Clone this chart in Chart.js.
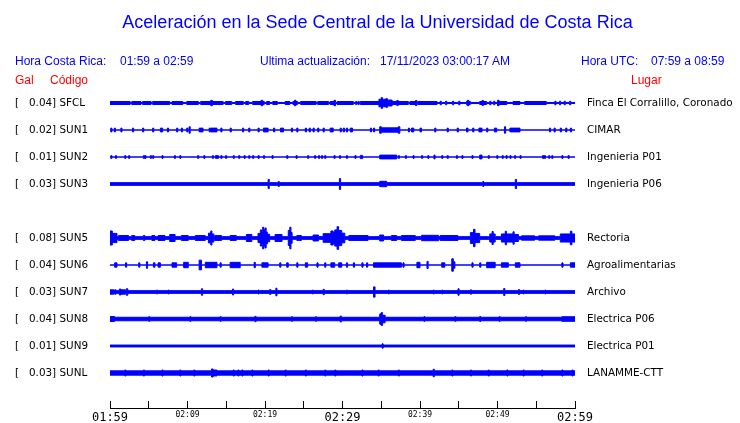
<!DOCTYPE html>
<html>
<head>
<meta charset="utf-8">
<script src="https://cdn.jsdelivr.net/npm/chart.js@4.4.1/dist/chart.umd.min.js"></script>
<style>
  body { margin: 0; background: #fff; }
  #wrap { position: relative; width: 740px; height: 423px; }
  .cab { position: absolute; font: 12px 'Liberation Sans', Arial, sans-serif; line-height: 14px; white-space: pre; color: #0000ff; }
  .rojo { color: #ff0000; }
</style>
</head>
<body>
<div id="wrap">
  <canvas id="sismo" width="740" height="423"></canvas>
  <span class="cab" style="left:15px; top:54px">Hora Costa Rica:</span>
  <span class="cab" style="left:120px; top:54px">01:59 a 02:59</span>
  <span class="cab" style="left:260px; top:54px">Ultima actualización:</span>
  <span class="cab" style="left:380px; top:54px">17/11/2023 03:00:17 AM</span>
  <span class="cab" style="left:581px; top:54px">Hora UTC:</span>
  <span class="cab" style="left:651px; top:54px">07:59 a 08:59</span>
  <span class="cab rojo" style="left:15px; top:73px">Gal</span>
  <span class="cab rojo" style="left:50px; top:73px">Código</span>
  <span class="cab rojo" style="left:631px; top:73px">Lugar</span>
</div>
<script>
const titulo = 'Aceleración en la Sede Central de la Universidad de Costa Rica';

// una fila por estacion, la fila 4 (SUN4) viene vacia
const codigos = ['SFCL', 'SUN1', 'SUN2', 'SUN3', null, 'SUN5', 'SUN6', 'SUN7', 'SUN8', 'SUN9', 'SUNL'];
const picos = ['0.04', '0.02', '0.01', '0.03', null, '0.08', '0.04', '0.03', '0.04', '0.01', '0.03'];
const lugares = ['Finca El Corralillo, Coronado', 'CIMAR', 'Ingenieria P01', 'Ingenieria P06', null,
  'Rectoria', 'Agroalimentarias', 'Archivo', 'Electrica P06', 'Electrica P01', 'LANAMME-CTT'];
const ruidos = [0.02, 0, 0, 0.05, null, 0.05, 0, 0.05, 0.065, 0.035, 0.08];

// eje de tiempo: minutos desde 01:59
const minutosEje = [0, 5, 10, 15, 20, 25, 30, 35, 40, 45, 50, 55, 60];
const etiquetasHora = ['01:59', '', '02:09', '', '02:19', '', '02:29', '', '02:39', '', '02:49', '', '02:59'];
const horasGrandes = ['01:59', '02:29', '02:59'];

const eventosSFCL = [
  [0, 2.6, 0.055], [2.8, 4.0, 0.055], [4.2, 5.3, 0.055], [5.5, 7.7, 0.055], [8.0, 9.4, 0.055],
  [9.9, 11.4, 0.055], [11.7, 13.0, 0.055], [13.0, 13.2, 0.1], [13.2, 14.6, 0.055], [14.9, 15.7, 0.055],
  [16.2, 17.2, 0.055], [17.5, 17.9, 0.055], [18.4, 19.5, 0.055], [19.5, 19.7, 0.1], [19.7, 19.9, 0.055],
  [20.2, 20.6, 0.055], [21.0, 21.6, 0.055], [22.6, 23.2, 0.055], [23.6, 23.8, 0.055], [23.8, 24.0, 0.1],
  [24.0, 24.2, 0.055], [24.6, 26.6, 0.055], [26.8, 28.2, 0.055], [28.4, 28.9, 0.055], [28.9, 29.1, 0.1],
  [29.3, 31.4, 0.055], [31.7, 31.85, 0.06], [32.0, 32.15, 0.06], [32.3, 34.7, 0.055],
  [34.7, 35.0, 0.14], [35.0, 35.15, 0.2], [35.15, 35.6, 0.14], [35.6, 35.8, 0.16], [35.8, 36.4, 0.11],
  [36.4, 37.0, 0.055], [37.0, 37.2, 0.09], [37.2, 38.5, 0.055], [38.7, 39.4, 0.055], [39.4, 39.6, 0.09],
  [39.7, 42.2, 0.055], [42.6, 42.75, 0.065], [43.3, 43.45, 0.065], [44.2, 44.35, 0.065], [45.0, 45.15, 0.065],
  [46.0, 46.1, 0.055], [46.1, 46.3, 0.1], [46.3, 46.5, 0.055], [47.7, 48.0, 0.055], [48.0, 48.2, 0.09],
  [48.2, 48.6, 0.055], [49.0, 49.15, 0.065], [49.5, 49.65, 0.065], [50.0, 50.2, 0.1], [50.2, 51.2, 0.055],
  [52.0, 52.9, 0.055], [53.5, 56.3, 0.055], [57.4, 57.55, 0.065], [58.0, 58.15, 0.065], [58.6, 58.75, 0.065],
  [59.3, 59.45, 0.065]
];
const eventosSUN1 = [
  [0.1, 0.25, 0.07], [0.56, 0.7, 0.07], [1.4, 1.55, 0.07], [2.9, 3.05, 0.07], [4.2, 4.35, 0.07],
  [5.5, 5.65, 0.07], [6.5, 6.8, 0.07], [7.4, 7.55, 0.07], [8.6, 8.75, 0.07], [9.2, 9.35, 0.07],
  [9.9, 10.05, 0.07], [10.2, 10.35, 0.12], [11.5, 12.0, 0.07], [12.8, 12.95, 0.07], [13.0, 13.8, 0.07],
  [14.3, 14.45, 0.07], [15.5, 15.65, 0.07], [17.1, 17.25, 0.07], [17.9, 18.05, 0.07], [19.1, 19.25, 0.07],
  [19.8, 20.4, 0.07], [21.1, 21.25, 0.07], [22.0, 22.4, 0.07], [23.4, 23.55, 0.07], [24.1, 24.25, 0.07],
  [25.2, 25.35, 0.07], [25.7, 25.85, 0.07], [26.2, 26.35, 0.07], [26.8, 26.95, 0.07], [27.5, 27.65, 0.07],
  [28.4, 28.8, 0.07], [29.7, 29.85, 0.07], [30.1, 30.25, 0.07], [30.5, 30.65, 0.07], [31.0, 31.3, 0.07],
  [33.6, 33.75, 0.07], [34.0, 34.15, 0.07], [34.8, 35.0, 0.12], [35.0, 37.2, 0.08], [37.2, 37.4, 0.12],
  [38.5, 38.65, 0.07], [38.9, 39.2, 0.07], [40.0, 40.2, 0.07], [41.9, 42.05, 0.07], [43.5, 43.65, 0.07],
  [44.8, 44.95, 0.07], [46.0, 46.2, 0.07], [46.8, 46.95, 0.07], [47.6, 48.0, 0.07], [48.6, 48.75, 0.07],
  [49.6, 49.9, 0.07], [50.9, 51.05, 0.12], [51.6, 52.9, 0.07], [56.7, 56.85, 0.07], [57.3, 57.45, 0.07],
  [58.1, 58.25, 0.07], [58.8, 58.95, 0.07], [59.4, 59.55, 0.07]
];
const eventosSUN2 = [
  [0.1, 0.25, 0.05], [0.7, 0.85, 0.05], [1.9, 2.05, 0.05], [2.4, 2.55, 0.05], [4.3, 4.45, 0.05],
  [4.5, 4.65, 0.05], [5.2, 5.35, 0.05], [5.5, 5.65, 0.05], [6.7, 6.85, 0.05], [8.3, 8.45, 0.05],
  [9.0, 9.15, 0.05], [11.3, 11.45, 0.05], [12.1, 12.25, 0.05], [13.2, 13.35, 0.05], [13.6, 14.0, 0.05],
  [14.3, 14.45, 0.05], [14.9, 15.05, 0.05], [15.9, 16.05, 0.05], [16.6, 16.75, 0.05], [17.3, 17.45, 0.05],
  [17.9, 18.05, 0.05], [18.4, 18.55, 0.05], [19.1, 19.25, 0.05], [19.8, 19.95, 0.05], [20.9, 21.05, 0.05],
  [22.8, 22.95, 0.05], [24.0, 24.15, 0.05], [25.5, 25.65, 0.05], [26.4, 26.55, 0.05], [26.9, 27.05, 0.05],
  [27.3, 27.45, 0.05], [27.7, 27.85, 0.05], [28.9, 29.05, 0.05], [29.6, 29.75, 0.05], [30.5, 30.65, 0.05],
  [31.6, 31.75, 0.05], [32.3, 32.6, 0.06], [34.8, 37.0, 0.07], [37.2, 37.35, 0.05], [38.1, 38.25, 0.05],
  [39.1, 39.25, 0.05], [40.2, 40.35, 0.05], [41.0, 41.15, 0.05], [41.8, 41.95, 0.07], [42.8, 42.95, 0.05],
  [43.5, 43.65, 0.05], [44.7, 44.85, 0.05], [45.4, 45.55, 0.05], [46.7, 46.85, 0.05], [47.7, 48.0, 0.07],
  [48.8, 48.95, 0.05], [49.9, 50.05, 0.05], [50.6, 50.75, 0.05], [51.1, 51.25, 0.05], [51.6, 51.75, 0.05],
  [52.2, 52.35, 0.05], [52.9, 53.05, 0.05], [55.8, 56.2, 0.05], [56.6, 56.75, 0.05], [57.0, 57.15, 0.05],
  [58.3, 58.45, 0.05], [59.1, 59.25, 0.05]
];
const eventosSUN3 = [
  [20.4, 20.55, 0.17], [21.7, 21.85, 0.09], [29.6, 29.75, 0.2], [34.8, 35.7, 0.1],
  [48.1, 48.25, 0.09], [52.3, 52.45, 0.17]
];
const eventosSUN5 = [
  [0, 0.3, 0.26], [0.3, 0.9, 0.17], [1.1, 2.4, 0.09], [2.8, 3.2, 0.09], [4.3, 4.5, 0.09],
  [5.4, 5.8, 0.09], [6.2, 7.1, 0.09], [7.7, 8.4, 0.13], [9.2, 10.1, 0.09], [11.0, 12.3, 0.09],
  [12.7, 13.0, 0.18], [13.0, 13.15, 0.26], [13.15, 13.4, 0.15], [13.5, 14.4, 0.09], [15.5, 16.3, 0.09],
  [17.6, 18.3, 0.13], [19.1, 19.4, 0.17], [19.4, 19.55, 0.3], [19.55, 19.7, 0.22], [19.7, 19.85, 0.4],
  [19.85, 20.0, 0.3], [20.0, 20.15, 0.37], [20.15, 20.3, 0.22], [20.3, 20.6, 0.14], [21.3, 22.2, 0.13],
  [23.0, 23.2, 0.28], [23.2, 23.35, 0.4], [23.35, 23.5, 0.2], [24.1, 24.7, 0.09], [26.2, 26.9, 0.11],
  [27.5, 28.5, 0.16], [28.5, 28.8, 0.26], [28.8, 29.0, 0.2], [29.0, 29.3, 0.3], [29.3, 29.5, 0.42],
  [29.5, 29.9, 0.28], [29.9, 30.3, 0.18], [30.8, 33.3, 0.09], [34.8, 35.3, 0.11], [36.3, 37.0, 0.09],
  [37.6, 39.4, 0.09], [40.2, 42.4, 0.1], [42.6, 44.9, 0.09], [46.5, 46.9, 0.2], [46.9, 47.1, 0.32],
  [47.1, 47.7, 0.17], [49.0, 49.3, 0.15], [49.3, 49.45, 0.24], [49.45, 49.7, 0.15], [50.5, 51.0, 0.15],
  [51.0, 51.15, 0.25], [51.15, 52.0, 0.15], [52.0, 52.15, 0.23], [52.15, 52.7, 0.13], [53.1, 54.8, 0.08],
  [55.3, 57.4, 0.08], [58.1, 59.4, 0.15], [59.4, 59.6, 0.25], [59.6, 60, 0.15]
];
const eventosSUN6 = [
  [0.6, 0.9, 0.08], [2.0, 2.15, 0.08], [3.7, 3.85, 0.08], [4.7, 4.85, 0.12], [5.6, 5.8, 0.08],
  [6.2, 6.5, 0.08], [8.0, 8.6, 0.08], [9.5, 10.1, 0.1], [11.5, 11.8, 0.18], [12.3, 13.8, 0.1],
  [14.2, 14.35, 0.08], [15.5, 16.8, 0.1], [18.6, 18.75, 0.1], [19.6, 20.4, 0.08], [21.9, 22.05, 0.08],
  [22.8, 23.0, 0.08], [24.1, 24.25, 0.08], [25.2, 25.5, 0.08], [26.7, 26.85, 0.08], [27.7, 27.85, 0.08],
  [28.5, 29.0, 0.08], [29.5, 29.9, 0.08], [30.5, 30.65, 0.08], [31.4, 31.55, 0.08], [32.5, 32.65, 0.08],
  [33.1, 33.25, 0.08], [34.0, 37.6, 0.08], [37.8, 37.95, 0.08], [39.6, 40.0, 0.1], [40.9, 41.05, 0.13],
  [42.8, 43.2, 0.08], [44.1, 44.3, 0.23], [44.3, 44.5, 0.12], [46.7, 46.85, 0.08], [47.7, 47.85, 0.08],
  [48.6, 49.7, 0.1], [50.5, 51.4, 0.08], [52.3, 52.9, 0.08], [58.3, 58.45, 0.08], [59.4, 60, 0.08]
];
const eventosSUN7 = [
  [0, 0.5, 0.08], [0.6, 0.8, 0.08], [1.2, 1.4, 0.11], [1.4, 2.0, 0.08], [2.1, 2.3, 0.12],
  [6.0, 6.15, 0.07], [7.5, 7.65, 0.07], [11.8, 11.95, 0.12], [15.8, 15.95, 0.11], [19.1, 19.25, 0.07],
  [20.6, 20.75, 0.09], [21.4, 21.55, 0.14], [26.1, 26.25, 0.07], [27.5, 27.65, 0.1], [30.5, 30.65, 0.07],
  [34.0, 34.2, 0.19], [35.9, 36.05, 0.07], [41.7, 41.85, 0.07], [42.8, 42.95, 0.07], [44.9, 45.05, 0.12],
  [46.5, 46.65, 0.08], [50.8, 50.95, 0.13], [52.7, 52.85, 0.09], [53.3, 53.45, 0.07], [56.1, 56.25, 0.07]
];
const eventosSUN8 = [
  [0, 0.6, 0.09], [5.0, 5.15, 0.085], [10.3, 10.45, 0.085], [14.2, 14.35, 0.085], [18.7, 18.85, 0.1],
  [23.4, 23.55, 0.085], [26.5, 26.65, 0.085], [29.7, 29.85, 0.11], [34.8, 35.0, 0.19], [35.0, 35.15, 0.24],
  [35.15, 35.5, 0.14], [40.5, 40.65, 0.085], [44.5, 44.65, 0.085], [47.7, 47.85, 0.09], [50.2, 50.35, 0.085],
  [53.6, 53.75, 0.085], [58.3, 60, 0.085]
];
const eventosSUN9 = [
  [35.1, 35.25, 0.08]
];
const eventosSUNL = [
  [1.9, 2.05, 0.11], [4.3, 4.45, 0.11], [6.7, 6.85, 0.11], [9.0, 9.15, 0.11], [10.8, 10.95, 0.11],
  [13.1, 13.3, 0.15], [13.3, 13.8, 0.11], [15.9, 16.05, 0.11], [16.5, 16.65, 0.11], [17.0, 17.15, 0.11],
  [18.3, 18.45, 0.11], [20.4, 20.55, 0.11], [22.6, 22.75, 0.11], [25.2, 25.35, 0.11], [27.7, 27.85, 0.11],
  [29.0, 29.15, 0.11], [32.5, 32.65, 0.11], [34.6, 34.75, 0.11], [37.2, 37.35, 0.11], [41.7, 41.85, 0.14],
  [44.1, 44.25, 0.11], [46.5, 46.65, 0.11], [48.8, 48.95, 0.11], [51.2, 51.35, 0.11], [53.3, 53.45, 0.11],
  [55.7, 55.85, 0.11], [58.3, 58.45, 0.11], [59.6, 59.75, 0.11]
];
const eventos = [eventosSFCL, eventosSUN1, eventosSUN2, eventosSUN3, null, eventosSUN5,
  eventosSUN6, eventosSUN7, eventosSUN8, eventosSUN9, eventosSUNL];

const azul = '#0000ff';

// envolvente escalonada de cada traza: base +- amplitud
function envolvente(lista, ruido) {
  const pts = [{ x: 0, a: ruido }];
  lista.slice().sort((p, q) => p[0] - q[0]).forEach(([ini, fin, amp]) => {
    pts.push({ x: ini, a: amp });
    pts.push({ x: fin, a: ruido });
  });
  pts.push({ x: 60, a: ruido });
  return pts;
}

const datasets = [];
codigos.forEach((cod, i) => {
  if (!cod) return;
  const pts = envolvente(eventos[i], ruidos[i]);
  const comun = { borderColor: azul, backgroundColor: azul, borderWidth: 1, pointRadius: 0, stepped: true };
  datasets.push({ ...comun, label: cod, data: pts.map(p => ({ x: p.x, y: i - p.a })), fill: false });
  datasets.push({ ...comun, label: cod + ' inf', data: pts.map(p => ({ x: p.x, y: i + p.a })), fill: '-1' });
});

const filas = codigos.map((c, i) => i);

// sin relleno extra arriba/abajo por las etiquetas de los ejes verticales
const sinPadding = s => { s.paddingTop = 0; s.paddingBottom = 0; };

new Chart(document.getElementById('sismo'), {
  type: 'line',
  data: { datasets: datasets },
  options: {
    responsive: false,
    animation: false,
    devicePixelRatio: 1,
    layout: { padding: { left: 15, right: 0, top: 0, bottom: 0 } },
    plugins: {
      legend: { display: false },
      tooltip: { enabled: false },
      title: {
        display: true,
        text: titulo,
        color: azul,
        font: { family: 'Liberation Sans', size: 18, weight: 'normal' },
        padding: { top: 12, bottom: 42.4 }
      }
    },
    scales: {
      x: {
        type: 'linear', min: 0, max: 60,
        afterBuildTicks: s => { s.ticks = minutosEje.map(v => ({ value: v })); },
        afterFit: s => { s.height = 15; },
        grid: { drawOnChartArea: false, drawTicks: true, tickLength: -7, color: '#000' },
        border: { color: '#000', width: 1 },
        ticks: {
          autoSkip: false, maxRotation: 0, padding: 9.5, color: '#000',
          font: c => ({ family: 'DejaVu Sans Mono', size: horasGrandes.includes(etiquetasHora[c.index]) ? 12 : 8 }),
          callback: (v, i) => etiquetasHora[i]
        }
      },
      y: {
        type: 'linear', position: 'left', reverse: true, min: -1, max: 11.296,
        afterBuildTicks: s => { s.ticks = filas.map(v => ({ value: v })); },
        afterFit: s => { s.width = 95; sinPadding(s); },
        grid: { display: false },
        border: { display: false },
        ticks: {
          autoSkip: false, crossAlign: 'far', color: '#000',
          font: { family: 'DejaVu Sans', size: 10.4 },
          callback: (v, i) => codigos[i] ? '[   ' + picos[i] + '] ' + codigos[i] : ''
        }
      },
      y2: {
        type: 'linear', position: 'right', reverse: true, min: -1, max: 11.296,
        afterBuildTicks: s => { s.ticks = filas.map(v => ({ value: v })); },
        afterFit: s => { s.width = 165; sinPadding(s); },
        grid: { display: false, drawTicks: false },
        border: { display: false },
        ticks: {
          autoSkip: false, crossAlign: 'near', padding: 12, color: '#000',
          font: { family: 'DejaVu Sans', size: 10.4 },
          callback: (v, i) => lugares[i] || ''
        }
      }
    }
  }
});
</script>
</body>
</html>
